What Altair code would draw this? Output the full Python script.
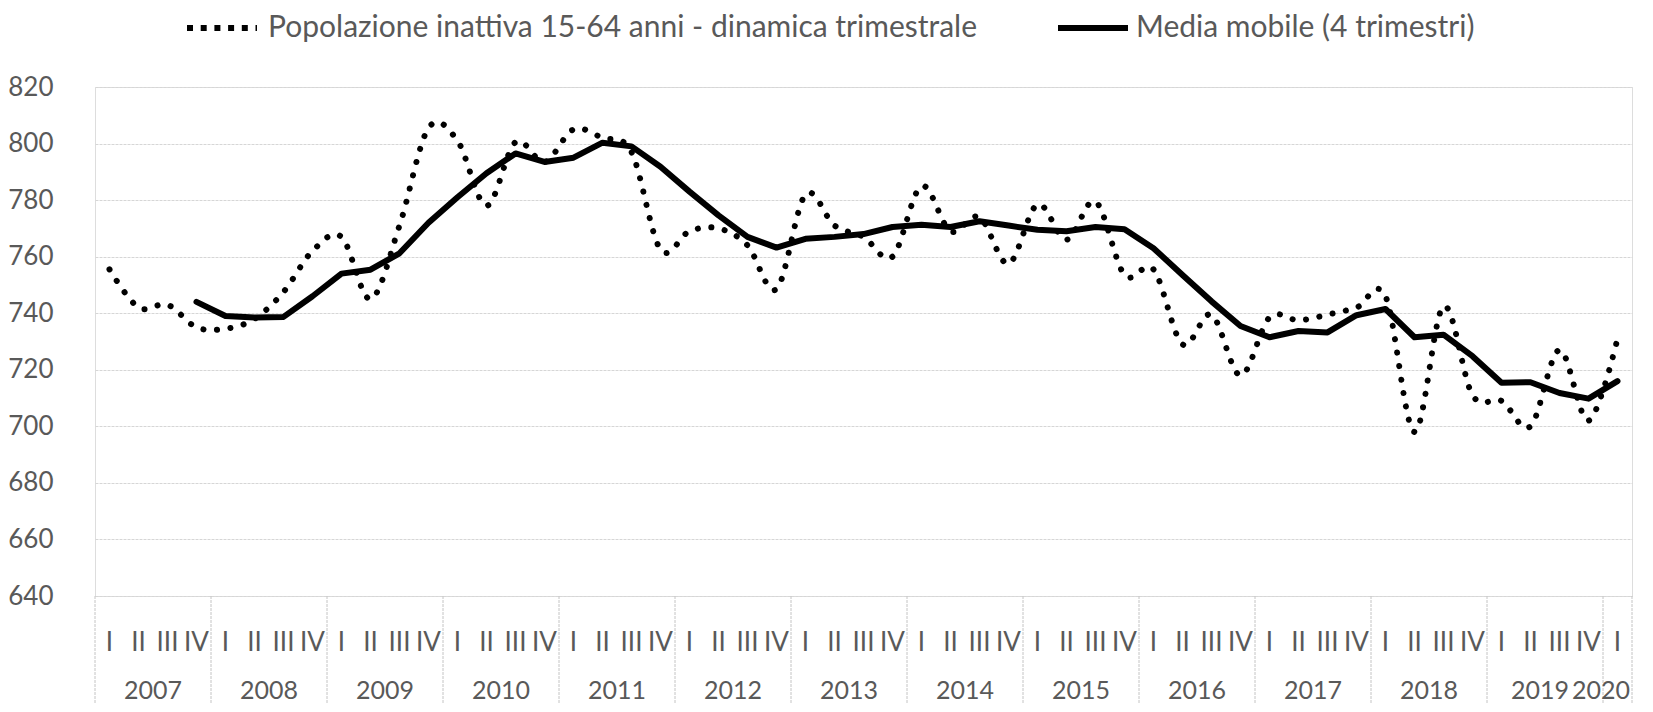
import altair as alt
import pandas as pd

years = [str(y) for y in range(2007, 2021)]
quarter_names = ["I", "II", "III", "IV"]

# Popolazione inattiva 15-64 anni (migliaia) - dinamica trimestrale, 2007 I .. 2020 I
pop = [755.5, 742, 743, 735,
       734.5, 738, 747.5, 762,
       767, 745, 771, 805.5,
       801, 778, 800.5, 793.5,
       805, 802, 797, 762.5,
       769, 770, 764, 748.5,
       782, 771, 767, 760,
       785, 769, 774, 757.5,
       778.5, 766, 779.5, 753.5,
       755.5, 729, 739.5, 718,
       738.5, 737.5, 739.5, 742,
       746, 698, 742.5, 711,
       709, 700, 727, 702,
       731]

# Media mobile (4 trimestri), from 2007 IV
ma = [None, None, None, 744,
      739, 738.5, 738.7, 746,
      754, 755.4, 761.2, 772,
      781, 789.5, 796.5, 793.5,
      795, 800.3, 799, 791.8,
      783, 774.6, 767, 763.2,
      766.3, 767, 768, 770.5,
      771.3, 770.5, 772.5, 771,
      769.5, 769, 770.5, 769.7,
      763, 753.5, 744.2, 735.5,
      731.5, 733.7, 733.2, 739.3,
      741.5, 731.5, 732.4, 724.8,
      715.4, 715.6, 711.8, 709.8,
      716]

label_pop = "Popolazione inattiva 15-64 anni - dinamica trimestrale"
label_ma = "Media mobile (4 trimestri)"

n = len(pop)
q_labels = [quarter_names[i % 4] for i in range(n)]
q_years = [years[i // 4] for i in range(n)]

W, H = 1537, 509
FONT = "Lato"
TXT = "#595959"
FS = 26
LFS = 30

df = pd.DataFrame({"pos": [i + 0.5 for i in range(n)], "q": q_labels, "anno": q_years,
                   "pop": pop, "ma": ma})
df["s1"] = label_pop
df["s2"] = label_ma
df_ma = df.dropna(subset=["ma"])

xs = alt.Scale(domain=[0, n], nice=False, zero=False)
ys = alt.Scale(domain=[640, 820], nice=False, zero=False)

y_axis = alt.Axis(values=list(range(640, 821, 20)), grid=True, gridColor="#d6d6d6",
                  gridDash=[3, 1], gridWidth=1, domain=False, ticks=False, tickSize=0,
                  labelPadding=42, labelFont=FONT, labelFontSize=FS, labelColor=TXT, title=None)

dotted = alt.Chart(df).mark_line(strokeWidth=6, strokeCap="round", strokeDash=[0.1, 13.5],
                                 interpolate="cardinal").encode(
    x=alt.X("pos:Q", scale=xs, axis=None),
    y=alt.Y("pop:Q", scale=ys, axis=y_axis),
    color=alt.Color("s1:N", scale=alt.Scale(range=["black"]),
                    legend=alt.Legend(title=None, orient="none", legendX=89, legendY=-97,
                                      symbolType="stroke", symbolSize=4900, symbolStrokeWidth=6,
                                      symbolDash=[6, 7.7], labelFont=FONT, labelFontSize=LFS,
                                      labelColor=TXT, labelLimit=1000, labelOffset=8, padding=0)),
)

solid = alt.Chart(df_ma).mark_line(strokeWidth=6, strokeJoin="round", strokeCap="round").encode(
    x=alt.X("pos:Q", scale=xs, axis=None),
    y=alt.Y("ma:Q", scale=ys),
    color=alt.Color("s2:N", scale=alt.Scale(range=["black"]),
                    legend=alt.Legend(title=None, orient="none", legendX=960, legendY=-97,
                                      symbolType="stroke", symbolSize=4900, symbolStrokeWidth=6,
                                      labelFont=FONT, labelFontSize=LFS,
                                      labelColor=TXT, labelLimit=1000, labelOffset=5, padding=0)),
)

bounds = pd.DataFrame({"b": list(range(0, n, 4)) + [n]})
seps = alt.Chart(bounds).mark_rule(color="#c4c4c4", strokeWidth=1, strokeDash=[3, 1]).encode(
    x=alt.X("b:Q", scale=xs, axis=None),
    y=alt.value(H), y2=alt.value(H + 108),
)

qtext = alt.Chart(df).mark_text(font=FONT, fontSize=FS, color=TXT, baseline="middle").encode(
    x=alt.X("pos:Q", scale=xs, axis=None),
    y=alt.value(H + 47),
    text="q:N",
)

ydf = pd.DataFrame({"anno": years[:-2], "pos": [4 * k + 2 for k in range(len(years) - 2)]})
ytext = alt.Chart(ydf).mark_text(font=FONT, fontSize=25, color=TXT, baseline="middle").encode(
    x=alt.X("pos:Q", scale=xs, axis=None),
    y=alt.value(H + 95),
    text="anno:N",
)
ydf_2019 = pd.DataFrame({"anno": years[-2:-1], "pos": [4 * (len(years) - 2) + 2]})
ytext_2019 = alt.Chart(ydf_2019).mark_text(font=FONT, fontSize=25, color=TXT, baseline="middle",
                                          dx=-5).encode(
    x=alt.X("pos:Q", scale=xs, axis=None),
    y=alt.value(H + 95),
    text="anno:N",
)
ydf_last = pd.DataFrame({"anno": years[-1:], "pos": [n]})
ytext_last = alt.Chart(ydf_last).mark_text(font=FONT, fontSize=25, color=TXT, baseline="middle",
                                          align="right", dx=-2).encode(
    x=alt.X("pos:Q", scale=xs, axis=None),
    y=alt.value(H + 95),
    text="anno:N",
)

chart = alt.layer(dotted, solid, seps, qtext, ytext, ytext_2019, ytext_last).resolve_scale(
    color="independent"
).resolve_legend(color="independent").properties(
    width=W, height=H,
    padding={"left": 87, "top": 79, "right": 10, "bottom": 108},
    autosize=alt.AutoSizeParams(type="none"),
).configure_view(stroke=None).configure(background="white")

chart.save("out.html", embed_options={"renderer": "svg", "actions": False})
